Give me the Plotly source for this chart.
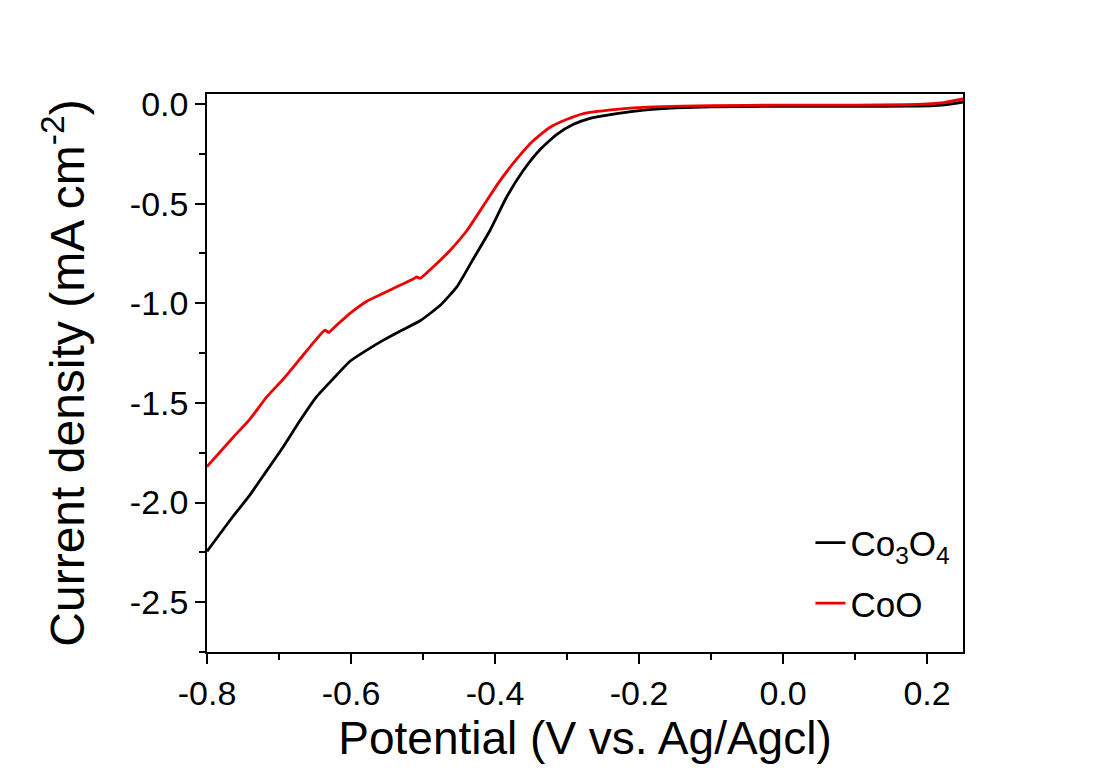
import plotly.graph_objects as go

# Co3O4 polarisation curve
co3o4_v = [-0.8, -0.764, -0.74, -0.717, -0.694, -0.671, -0.648, -0.625, -0.601, -0.578,
           -0.555, -0.532, -0.504, -0.476, -0.453, -0.43, -0.407, -0.384, -0.361, -0.337,
           -0.314, -0.291, -0.268, -0.231, -0.19, -0.15, -0.1, 0.0, 0.1, 0.18, 0.21, 0.23, 0.25]
co3o4_j = [-2.245, -2.07, -1.96, -1.84, -1.72, -1.59, -1.47, -1.38, -1.29, -1.235,
           -1.185, -1.14, -1.088, -1.01, -0.918, -0.777, -0.635, -0.468, -0.335, -0.227,
           -0.152, -0.102, -0.072, -0.048, -0.03, -0.02, -0.014, -0.012, -0.012, -0.011, -0.008, -0.002, 0.01]

# CoO polarisation curve
coo_v = [-0.8, -0.763, -0.74, -0.717, -0.694, -0.671, -0.648, -0.636, -0.631, -0.625,
         -0.601, -0.578, -0.555, -0.532, -0.513, -0.509, -0.504, -0.486, -0.4625, -0.439,
         -0.416, -0.393, -0.37, -0.347, -0.324, -0.3, -0.277, -0.231, -0.18, -0.1,
         0.0, 0.1, 0.17, 0.2, 0.225, 0.25]
coo_j = [-1.82, -1.67, -1.58, -1.47, -1.38, -1.28, -1.18, -1.135, -1.147, -1.127,
         -1.05, -0.99, -0.95, -0.91, -0.877, -0.868, -0.875, -0.818, -0.735, -0.635,
         -0.51, -0.385, -0.277, -0.185, -0.118, -0.077, -0.048, -0.027, -0.015, -0.008,
         -0.006, -0.006, -0.004, 0.0, 0.008, 0.025]

x_ticks = [-0.8, -0.6, -0.4, -0.2, 0.0, 0.2]
x_labels = ["-0.8", "-0.6", "-0.4", "-0.2", "0.0", "0.2"]
y_ticks = [0.0, -0.5, -1.0, -1.5, -2.0, -2.5]
y_labels = ["0.0", "-0.5", "-1.0", "-1.5", "-2.0", "-2.5"]

font = "Liberation Sans, Arial, sans-serif"

fig = go.Figure()
fig.add_trace(go.Scatter(x=co3o4_v, y=co3o4_j, mode="lines", name="Co<sub>3</sub>O<sub>4</sub>",
                         line=dict(color="black", width=2.8, shape="spline", smoothing=0.5),
                         legendgroup="a"))
fig.add_trace(go.Scatter(x=coo_v, y=coo_j, mode="lines", name="CoO",
                         line=dict(color="#ee0000", width=2.8, shape="spline", smoothing=0.5),
                         legendgroup="b"))

axis_common = dict(
    showline=True, linecolor="black", linewidth=1.5, mirror=True,
    ticks="outside", ticklen=10, tickwidth=1.5, tickcolor="black",
    showgrid=False, zeroline=False,
    tickfont=dict(family=font, size=34, color="black"),
)

fig.update_xaxes(range=[-0.8, 0.25], tickvals=x_ticks, ticktext=x_labels,
                 minor=dict(ticks="outside", ticklen=6, tickwidth=1.5, tickcolor="black", dtick=0.1, tick0=-0.8),
                 title=dict(text="Potential (V vs. Ag/Agcl)", font=dict(family=font, size=46, color="black"), standoff=6),
                 **axis_common)
fig.update_yaxes(range=[-2.75, 0.05], tickvals=y_ticks, ticktext=y_labels,
                 minor=dict(ticks="outside", ticklen=6, tickwidth=1.5, tickcolor="black", dtick=0.25, tick0=0),
                 title=dict(text="Current density (mA cm<sup>-2</sup>)", font=dict(family=font, size=48, color="black"), standoff=30),
                 **axis_common)

# the page body adds an 8 px offset, so the margins are shifted to match the reference frame
fig.update_layout(
    width=1102, height=771,
    margin=dict(l=199, r=147, t=86, b=127),
    paper_bgcolor="white", plot_bgcolor="white",
    showlegend=True,
    legend=dict(x=0.99, y=0.035, xanchor="right", yanchor="bottom",
                bgcolor="rgba(0,0,0,0)", tracegroupgap=12,
                font=dict(family=font, size=35, color="black")),
)

fig.write_html("out.html")
